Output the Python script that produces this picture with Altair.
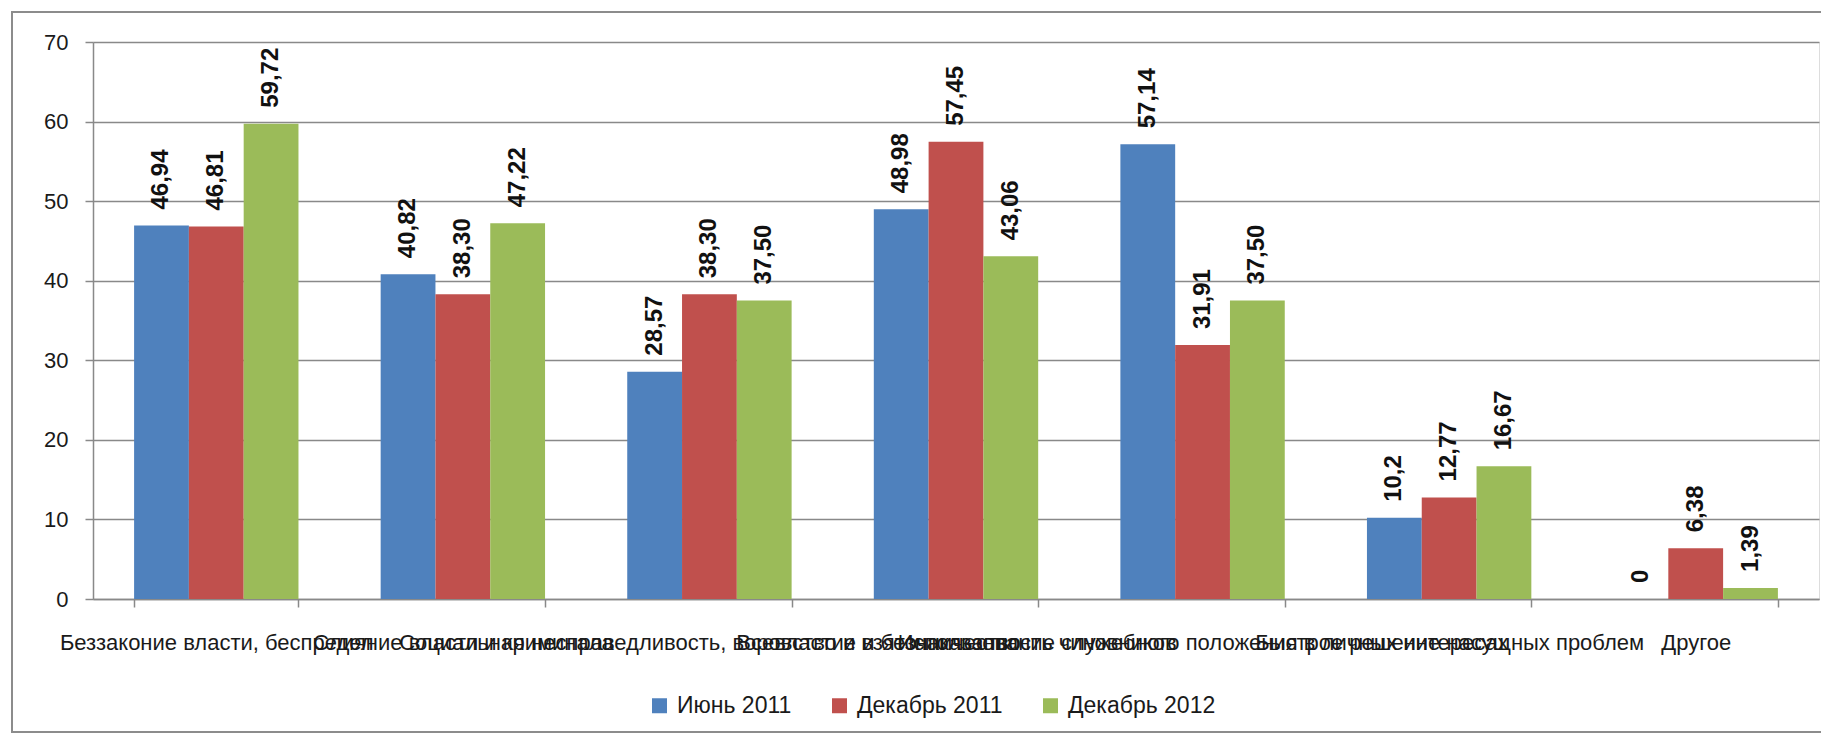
import altair as alt
import pandas as pd

categories = [
    "Беззаконие власти, беспредел",
    "Слияние власти и криминала",
    "Социальная несправедливость, воровство и взяточничество",
    "Всевластие и безнаказанность чиновников",
    "Использование служебного положения в личных интересах",
    "Быстрое решение насущных проблем",
    "Другое",
]
series = ["Июнь 2011", "Декабрь 2011", "Декабрь 2012"]
june_2011 = ["46,94", "40,82", "28,57", "48,98", "57,14", "10,2", "0"]
dec_2011 = ["46,81", "38,30", "38,30", "57,45", "31,91", "12,77", "6,38"]
dec_2012 = ["59,72", "47,22", "37,50", "43,06", "37,50", "16,67", "1,39"]
colors = ["#4F81BD", "#C0504D", "#9BBB59"]
y_ticks = [0, 10, 20, 30, 40, 50, 60, 70]

rows = []
for s, vals in zip(series, [june_2011, dec_2011, dec_2012]):
    for c, v in zip(categories, vals):
        rows.append({"category": c, "series": s,
                     "value": float(v.replace(",", ".")), "label": v})
df = pd.DataFrame(rows)

FONT = "Liberation Sans"
GRID = "#898989"

x_enc = alt.X(
    "category:N", sort=categories, title=None,
    scale=alt.Scale(paddingInner=1/3, paddingOuter=1/6),
    axis=alt.Axis(labelAngle=0, labelOverlap=False, labelLimit=0,
                  labelFontSize=22, labelFont=FONT, labelColor="#1a1a1a",
                  labelPadding=25, tickBand="extent", tickSize=8,
                  tickColor=GRID, tickWidth=1.5, domainColor=GRID,
                  domainWidth=1.5, grid=False),
)
xoff = alt.XOffset("series:N", sort=series)
y_enc = alt.Y(
    "value:Q", title=None,
    scale=alt.Scale(domain=[0, 70], nice=False),
    axis=alt.Axis(values=y_ticks, labelFontSize=22, labelFont=FONT,
                  labelColor="#1a1a1a", labelPadding=17, tickSize=8,
                  tickColor=GRID, tickWidth=1.5, domainColor=GRID,
                  domainWidth=1.5, grid=True, gridColor=GRID, gridWidth=1.5),
)

base = alt.Chart(df)

bars = base.mark_bar().encode(
    x=x_enc, xOffset=xoff, y=y_enc,
    color=alt.Color(
        "series:N", sort=series,
        scale=alt.Scale(domain=series, range=colors),
        legend=alt.Legend(title=None, orient="none", direction="horizontal",
                          legendX=555, legendY=652, symbolType="square",
                          symbolSize=225, symbolStrokeWidth=0,
                          labelFontSize=23, labelFont=FONT,
                          labelColor="#1a1a1a", columnPadding=36,
                          labelOffset=6, padding=0),
    ),
)

labels = base.mark_text(
    angle=270, align="left", baseline="middle", dx=16,
    fontSize=24, font=FONT, fontWeight="bold", color="#111111",
).encode(
    x=alt.X("category:N", sort=categories),
    xOffset=xoff,
    y=alt.Y("value:Q"),
    text="label:N",
)

frame = alt.Chart(pd.DataFrame({"k": [0]})).mark_rect(
    fillOpacity=0, stroke="#8c8c8c", strokeWidth=2
).encode(
    x=alt.value(-81), x2=alt.value(1760),
    y=alt.value(-30), y2=alt.value(690),
)

chart = alt.layer(frame, bars, labels).properties(
    width=1726, height=557,
    autosize=alt.AutoSizeParams(type="none"),
    padding={"left": 85, "top": 34, "right": 2, "bottom": 134},
).configure_view(strokeWidth=0).configure(background="white")

chart.save("out.html", embed_options={"renderer": "svg", "actions": False})
